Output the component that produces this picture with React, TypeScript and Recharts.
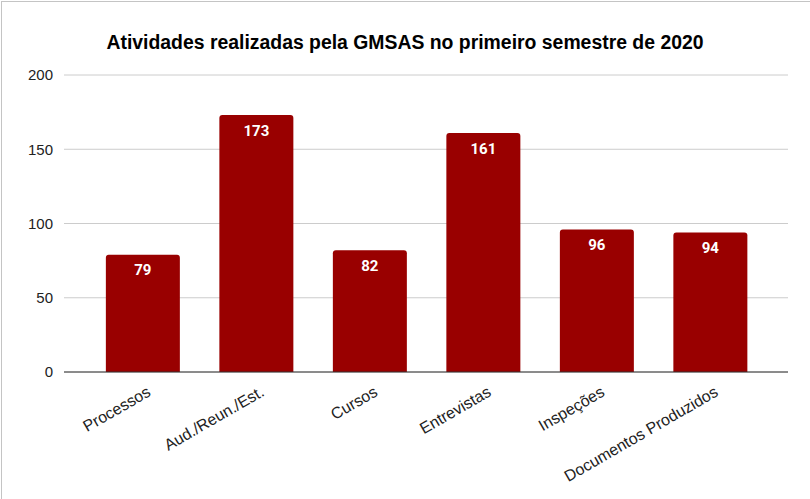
import React from "react";
import {
  BarChart,
  Bar,
  XAxis,
  YAxis,
  CartesianGrid,
  LabelList,
} from "recharts";

const categories = [
  "Processos",
  "Aud./Reun./Est.",
  "Cursos",
  "Entrevistas",
  "Inspeções",
  "Documentos Produzidos",
];
const values = [79, 173, 82, 161, 96, 94];
const yTicks = [0, 50, 100, 150, 200];

const data = categories.map((name, i) => ({ name, value: values[i] }));

const RotatedTick = (props: any) => {
  const { x, y, payload } = props;
  const tx = x + 9;
  const ty = y + 15;
  return (
    <text
      x={tx}
      y={ty}
      transform={`rotate(-30, ${tx}, ${ty})`}
      textAnchor="end"
      fontSize={16}
      fill="#222"
      fontFamily="'Liberation Sans', Arial, sans-serif"
    >
      {payload.value}
    </text>
  );
};

const App = () => {
  return (
    <div
      style={{
        position: "absolute",
        top: 0,
        left: 0,
        width: 810,
        height: 499,
        background: "#fff",
      }}
    >
      <div
        style={{
          position: "absolute",
          top: 1,
          left: 1,
          width: 809,
          height: 498,
          borderLeft: "1px solid #c4c4c4",
          borderTop: "1px solid #c4c4c4",
        }}
      />
      <div
        style={{
          position: "absolute",
          top: 30,
          left: 0,
          width: 810,
          textAlign: "center",
          fontFamily: "'Liberation Sans', Arial, sans-serif",
          fontWeight: "bold",
          fontSize: 19.4,
          lineHeight: "24px",
          color: "#000",
        }}
      >
        Atividades realizadas pela GMSAS no primeiro semestre de 2020
      </div>
      <BarChart
        width={810}
        height={499}
        data={data}
        margin={{ top: 75, right: 22, left: 0, bottom: 7 }}
        barCategoryGap="17.5%"
      >
        <CartesianGrid vertical={false} stroke="#cccccc" />
        <XAxis
          dataKey="name"
          interval={0}
          height={120}
          padding={{ left: 22, right: 21 }}
          tickLine={false}
          axisLine={{ stroke: "#333333", strokeWidth: 1 }}
          tick={<RotatedTick />}
        />
        <YAxis
          width={64}
          domain={[0, 200]}
          ticks={yTicks}
          tickLine={false}
          axisLine={false}
          tickSize={0}
          tickMargin={11}
          tick={{
            fontSize: 15,
            fill: "#222",
            fontFamily: "'Liberation Sans', Arial, sans-serif",
          }}
        />
        <Bar
          dataKey="value"
          fill="#990000"
          radius={[3, 3, 0, 0]}
          isAnimationActive={false}
        >
          <LabelList
            dataKey="value"
            position="insideTop"
            offset={10}
            fill="#ffffff"
            fontSize={15}
            fontWeight="bold"
            fontFamily="Roboto, 'Open Sans', sans-serif"
          />
        </Bar>
      </BarChart>
    </div>
  );
};

export default App;
